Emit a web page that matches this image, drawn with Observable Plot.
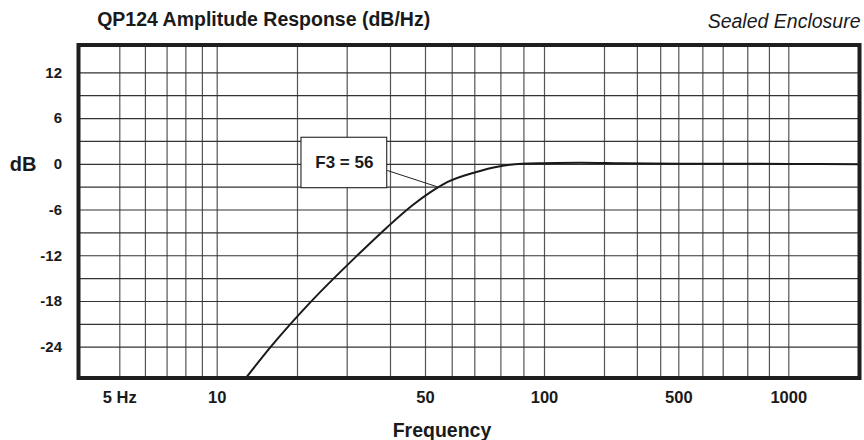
<!DOCTYPE html>
<html><head><meta charset="utf-8">
<script src="https://cdn.jsdelivr.net/npm/d3@7"></script>
<script src="https://cdn.jsdelivr.net/npm/@observablehq/plot@0.6"></script>
<style>
html,body{margin:0;padding:0;background:#fff;}
#chart{width:864px;height:440px;}
</style></head><body><div id="chart"></div>
<script>
// ---- data ----
const freqHz     = [12.84, 15.84, 22.24, 32.06, 39.14, 45.93, 51.74, 57.99, 70.25, 79.14, 89.2, 100, 151.6, 250, 500, 1000, 1560];
const responseDb = [-28, -24.0, -18.09, -11.97, -8.25, -5.41, -3.66, -2.35, -1.04, -0.29, 0.07, 0.14, 0.2, 0.12, 0.08, 0.05, 0.0];

const xTickValues = [5, 10, 50, 100, 500, 1000];
const xTickLabels = ["5 Hz", "10", "50", "100", "500", "1000"];
const yTickValues = [12, 6, 0, -6, -12, -18, -24];
const xGridValues = [5, 6, 7, 8, 9, 10, 20, 30, 40, 50, 60, 70, 80, 90, 100, 200, 300, 400, 500, 600, 700, 800, 900, 1000];
const yGridValues = [12, 9, 6, 3, 0, -3, -6, -9, -12, -15, -18, -21, -24];
// the printed grid is not an exact log scale: knots of a piecewise-log x scale
const xKnotsHz = [3.73, 5, 10, 20, 30, 40, 50, 70, 100, 200, 500, 700, 1000, 1560];
const yDomainDb = [-28.04, 15.65];

const calloutText = ["F3 = 56"];
const calloutBoxHz = [20.66, 39.14];
const calloutBoxDb = [-3.14, 3.48];
const calloutTextHz = [29.3];
const leaderHz = [39.14, 54.15];
const leaderDb = [-0.81, -2.95];

const titleText = "QP124 Amplitude Response (dB/Hz)";
const subtitleText = "Sealed Enclosure";
const xLabelText = "Frequency";
const yLabelText = "dB";

// ---- build ----
const curve = freqHz.map((f, i) => ({f, db: responseDb[i]}));
const callout = calloutText.map((t, i) => ({
  t, fx1: calloutBoxHz[0], fx2: calloutBoxHz[1], y1: calloutBoxDb[0], y2: calloutBoxDb[1],
  fc: calloutTextHz[i], yc: (calloutBoxDb[0] + calloutBoxDb[1]) / 2,
  lx1: leaderHz[0], lx2: leaderHz[1], ly1: leaderDb[0], ly2: leaderDb[1]
}));
const xTicks = xTickValues.map((v, i) => ({v, label: xTickLabels[i]}));
const ink = "#1a1a1a";
const font = "'Liberation Sans', Arial, sans-serif";

const chart = Plot.plot({
  width: 864,
  height: 440,
  marginLeft: 78,
  marginRight: 5,
  marginTop: 44.5,
  marginBottom: 62.5,
  style: {fontFamily: font, fontSize: "16px", background: "#fff", color: ink, overflow: "visible"},
  x: {type: "log", axis: null, domain: xKnotsHz,
      range: [78, 119.3, 216.7, 297, 346.7, 390, 425, 474.3, 544, 604, 678.3, 722.7, 788.3, 859]},
  y: {domain: yDomainDb},
  marks: [
    Plot.ruleX(xGridValues, {stroke: "#555", strokeWidth: 1.2}),
    Plot.ruleY(yGridValues, {stroke: "#333", strokeWidth: 1.2}),
    Plot.line(curve, {x: "f", y: "db", stroke: ink, strokeWidth: 2, curve: "monotone-x"}),
    Plot.rect(callout, {x1: "fx1", x2: "fx2", y1: "y1", y2: "y2", fill: "#fff", stroke: "#222", strokeWidth: 1.1}),
    Plot.link(callout, {x1: "lx1", y1: "ly1", x2: "lx2", y2: "ly2", stroke: "#222", strokeWidth: 1}),
    Plot.text(callout, {x: "fc", y: "yc", text: "t", fontSize: 17, fontWeight: "bold", fill: ink}),
    Plot.frame({stroke: "#1e1e1e", strokeWidth: 4}),
    Plot.text(xTicks, {x: "v", frameAnchor: "bottom", text: "label", dy: 13, lineAnchor: "top", fontSize: 16.5, fontWeight: "bold", fill: ink}),
    Plot.axisY(yTickValues, {tickSize: 0, tickPadding: 16.5, tickFormat: d => String(d), fontSize: 15, fontWeight: "bold", fill: ink, label: null}),
    Plot.text([titleText], {frameAnchor: "top-left", text: d => d, dx: 18.7, dy: -19.5, lineAnchor: "bottom", textAnchor: "start", fontSize: 19.5, fontWeight: "bold", fill: ink}),
    Plot.text([subtitleText], {frameAnchor: "top-right", text: d => d, dx: 1, dy: -17.5, lineAnchor: "bottom", textAnchor: "end", fontSize: 19.5, fontStyle: "italic", fill: ink}),
    Plot.text([xLabelText], {frameAnchor: "bottom", text: d => d, dx: -27, dy: 58.5, lineAnchor: "bottom", fontSize: 19.5, fontWeight: "bold", fill: ink}),
    Plot.text([yLabelText], {frameAnchor: "left", y: () => 0, text: d => d, dx: -68.7, lineAnchor: "middle", textAnchor: "start", fontSize: 20, fontWeight: "bold", fill: ink})
  ]
});
document.getElementById("chart").append(chart);
</script>
</body></html>
